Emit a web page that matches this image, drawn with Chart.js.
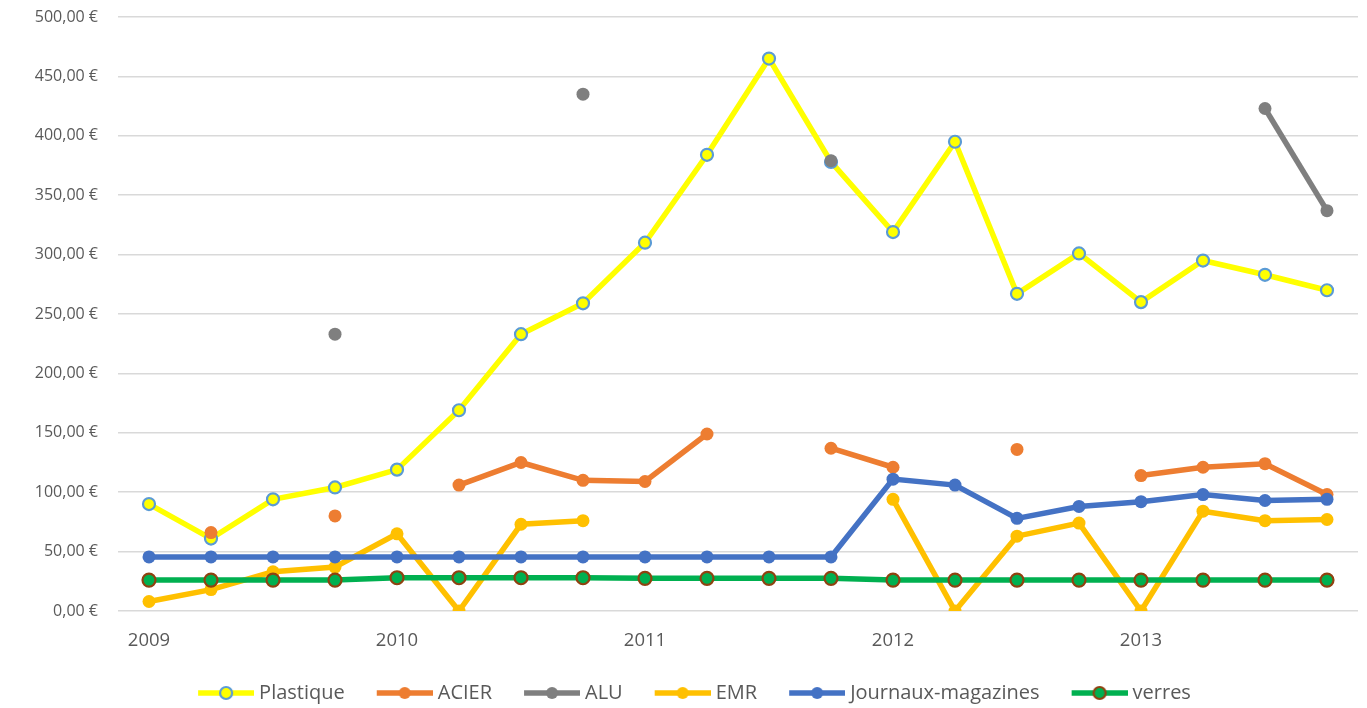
<!DOCTYPE html>
<html>
<head>
<meta charset="utf-8">
<script src="https://cdn.jsdelivr.net/npm/chart.js@4"></script>
<style>
    body { margin: 0; background: #fff; }
    #wrap { width: 1367px; height: 708px; }
</style>
</head>
<body>
<div id="wrap"><canvas id="prixChart"></canvas></div>
<script>
// quarters 2009 -> 2013
const quarters = [
    '2009 T1', '2009 T2', '2009 T3', '2009 T4',
    '2010 T1', '2010 T2', '2010 T3', '2010 T4',
    '2011 T1', '2011 T2', '2011 T3', '2011 T4',
    '2012 T1', '2012 T2', '2012 T3', '2012 T4',
    '2013 T1', '2013 T2', '2013 T3', '2013 T4'
];
const yearLabels = ['2009', '', '', '', '2010', '', '', '', '2011', '', '', '', '2012', '', '', '', '2013', '', '', ''];

const plastique = [90, 61, 94, 104, 119, 169, 233, 259, 310, 384, 465, 378, 319, 395, 267, 301, 260, 295, 283, 270];
const acier = [null, 66, null, 80, null, 106, 125, 110, 109, 149, null, 137, 121, null, 136, null, 114, 121, 124, 98];
const alu = [null, null, null, 233, null, null, null, 435, null, null, null, 379, null, null, null, null, null, null, 423, 337];
const emr = [8, 18, 33, 37, 65, 0, 73, 76, null, null, null, null, 94, 0, 63, 74, 0, 84, 76, 77];
const journaux = [45.5, 45.5, 45.5, 45.5, 45.5, 45.5, 45.5, 45.5, 45.5, 45.5, 45.5, 45.5, 111, 106, 78, 88, 92, 98, 93, 94];
const verres = [26, 26, 26, 26, 28, 28, 28, 28, 27.5, 27.5, 27.5, 27.5, 26, 26, 26, 26, 26, 26, 26, 26];

const textColor = '#595959';
const fontFamily = '"Open Sans", "Liberation Sans", sans-serif';

function makeSeries(label, data, color, opts) {
    opts = opts || {};
    return {
        label: label,
        data: data,
        borderColor: color,
        backgroundColor: color,
        borderWidth: opts.lineWidth || 5.5,
        pointRadius: opts.radius || 6.5,
        pointBackgroundColor: opts.pointFill || color,
        pointBorderColor: opts.pointBorder || color,
        pointBorderWidth: opts.pointBorderWidth || 0,
        pointHoverRadius: 7,
        spanGaps: false,
        tension: 0
    };
}

const datasets = [
    makeSeries('Plastique', plastique, '#ffff00', { lineWidth: 5.5, radius: 6, pointFill: '#ffff00', pointBorder: '#5b9bd5', pointBorderWidth: 2.2 }),
    makeSeries('ACIER', acier, '#ed7d31'),
    makeSeries('ALU', alu, '#7f7f7f'),
    makeSeries('EMR', emr, '#ffc000'),
    makeSeries('Journaux-magazines', journaux, '#4472c4'),
    makeSeries('verres', verres, '#00b050', { radius: 6.5, pointFill: '#00b050', pointBorder: '#8f4210', pointBorderWidth: 2.2 })
];
// later series on top, like the original
datasets.forEach((ds, i) => { ds.order = datasets.length - i; });

// legend sample: short line with the marker, pushed to the right of the box
const ICON_BOX = 62;
function legendIcon(ds) {
    const c = document.createElement('canvas');
    c.width = ICON_BOX + 10;
    c.height = 18;
    const g = c.getContext('2d');
    const x0 = c.width - 56;
    g.strokeStyle = ds.borderColor;
    g.lineWidth = 5.5;
    g.beginPath();
    g.moveTo(x0, 9);
    g.lineTo(c.width, 9);
    g.stroke();
    g.beginPath();
    g.arc(x0 + 28, 9, 6, 0, Math.PI * 2);
    g.fillStyle = ds.pointBackgroundColor;
    g.fill();
    if (ds.pointBorderWidth) {
        g.lineWidth = 2.2;
        g.strokeStyle = ds.pointBorderColor;
        g.stroke();
    }
    return c;
}

const ctx = document.getElementById('prixChart').getContext('2d');
new Chart(ctx, {
    type: 'line',
    data: {
        labels: quarters,
        datasets: datasets
    },
    options: {
        responsive: true,
        maintainAspectRatio: false,
        animation: false,
        layout: {
            autoPadding: false,
            padding: { top: 17, right: 9, left: 20, bottom: -5 }
        },
        scales: {
            x: {
                offset: true,
                grid: { display: false },
                border: { display: false },
                ticks: {
                    autoSkip: false,
                    maxRotation: 0,
                    color: textColor,
                    font: { family: fontFamily, size: 18.5 },
                    padding: 11,
                    callback: (value, index) => yearLabels[index]
                },
                afterFit: (scale) => { scale.height = 51; }
            },
            y: {
                min: 0,
                max: 500,
                ticks: {
                    stepSize: 50,
                    color: textColor,
                    font: { family: fontFamily, size: 16 },
                    padding: 20,
                    callback: (value) => value.toFixed(2).replace('.', ',') + ' €'
                },
                grid: { color: '#d9d9d9', lineWidth: 1.5, drawTicks: false },
                border: { display: false },
                afterFit: (scale) => {
                    scale.width = 98;
                    scale.paddingTop = 0;
                    scale.paddingBottom = 0;
                }
            }
        },
        plugins: {
            tooltip: { enabled: false },
            legend: {
                position: 'bottom',
                labels: {
                    usePointStyle: true,
                    pointStyleWidth: ICON_BOX,
                    padding: 21,
                    color: textColor,
                    font: { family: fontFamily, size: 20 },
                    generateLabels: (chart) => chart.data.datasets.map((ds, i) => ({
                        text: ds.label,
                        datasetIndex: i,
                        pointStyle: legendIcon(ds),
                        fillStyle: ds.backgroundColor,
                        strokeStyle: ds.borderColor,
                        lineWidth: 0,
                        fontColor: textColor,
                        hidden: !chart.isDatasetVisible(i)
                    }))
                }
            }
        }
    }
});
</script>
</body>
</html>
